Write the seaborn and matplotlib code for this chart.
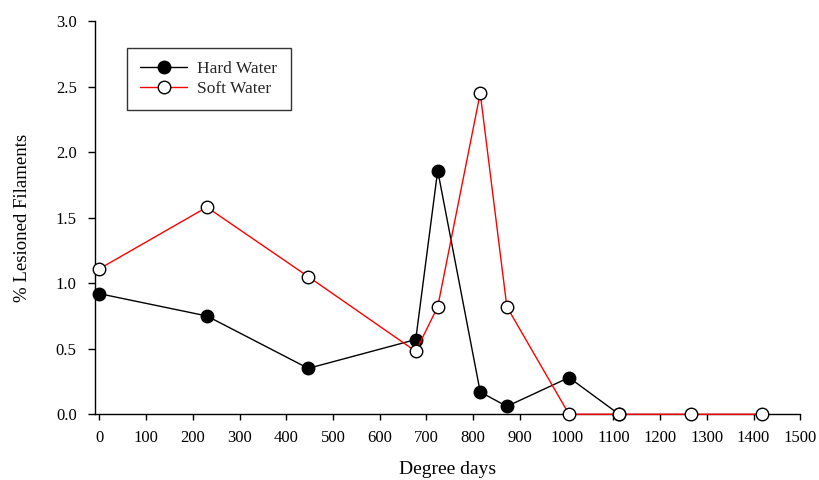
import matplotlib
matplotlib.use("Agg")
import matplotlib.pyplot as plt
import seaborn as sns
import pandas as pd

degree_days_hard = [0, 230, 447, 677, 724, 815, 872, 1005, 1112]
hard_water = [0.92, 0.75, 0.35, 0.57, 1.86, 0.17, 0.06, 0.28, 0.0]
degree_days_soft = [0, 230, 447, 677, 724, 815, 872, 1005, 1112, 1265, 1417]
soft_water = [1.11, 1.58, 1.05, 0.48, 0.82, 2.45, 0.82, 0.0, 0.0, 0.0, 0.0]
x_ticks = list(range(0, 1501, 100))
y_ticks = [0.0, 0.5, 1.0, 1.5, 2.0, 2.5, 3.0]

sns.set_theme(style="ticks")
plt.rcParams["font.family"] = ["Liberation Serif", "DejaVu Serif"]

df_hard = pd.DataFrame({"x": degree_days_hard, "y": hard_water})
df_soft = pd.DataFrame({"x": degree_days_soft, "y": soft_water})

fig = plt.figure(figsize=(8.2, 4.8), dpi=100)
ax = fig.add_axes([0.1155, 0.137, 0.976 - 0.1155, 0.956 - 0.137])

sns.lineplot(data=df_hard, x="x", y="y", ax=ax, color="black", lw=1.0,
             marker="o", markersize=9, markerfacecolor="black",
             markeredgecolor="black", markeredgewidth=1.0,
             label="Hard Water", zorder=3, clip_on=False)
sns.lineplot(data=df_soft, x="x", y="y", ax=ax, color="red", lw=1.0,
             marker="o", markersize=9, markerfacecolor="white",
             markeredgecolor="black", markeredgewidth=1.0,
             label="Soft Water", zorder=4, clip_on=False)

ax.set_xlim(-10, 1500)
ax.set_ylim(0, 3.0)
ax.set_xticks(x_ticks)
ax.set_xticklabels([str(t) for t in x_ticks])
ax.set_yticks(y_ticks)
ax.set_yticklabels([f"{t:.1f}" for t in y_ticks])
for s in ["top", "right"]:
    ax.spines[s].set_visible(False)
for s in ["left", "bottom"]:
    ax.spines[s].set_linewidth(1.0)
    ax.spines[s].set_color("black")
ax.tick_params(axis="y", direction="out", length=5, width=1, pad=8,
               labelsize=12, colors="black")
ax.tick_params(axis="x", direction="out", length=4, width=1, pad=7,
               labelsize=12, colors="black")
ax.set_xlabel("Degree days", fontsize=14, labelpad=11, color="black")
ax.set_ylabel("% Lesioned Filaments", fontsize=13.5, labelpad=18, color="black")

leg = ax.legend(loc="upper left", bbox_to_anchor=(0.046, 0.931), frameon=True,
                fancybox=False, edgecolor="black", fontsize=12.5,
                handlelength=2.7, handletextpad=0.6, borderpad=0.75,
                labelspacing=0.2, borderaxespad=0)
leg.get_frame().set_linewidth(1.0)

fig.savefig("out.png", dpi=100)
